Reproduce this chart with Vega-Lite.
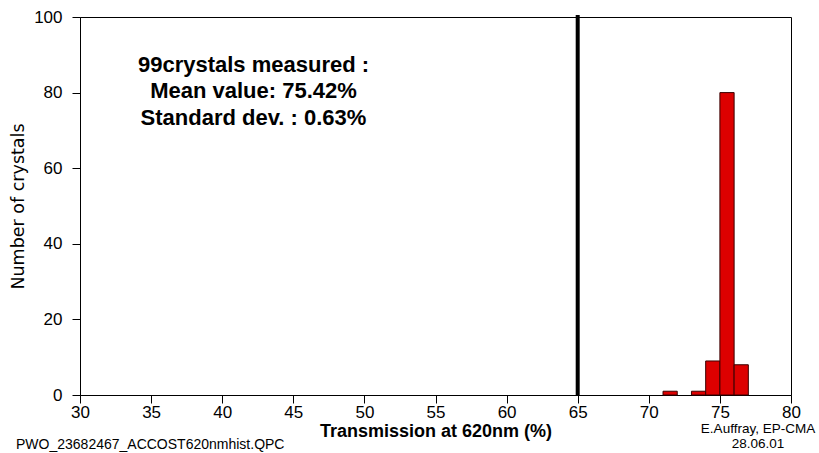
{
  "$schema": "https://vega.github.io/schema/vega-lite/v6.json",
  "width": 711,
  "height": 378,
  "autosize": {"type": "none"},
  "padding": {"left": 80, "top": 17, "right": 28, "bottom": 58},
  "background": "white",
  "config": {
    "font": "Liberation Sans",
    "view": {"stroke": "#000000", "strokeWidth": 1},
    "axis": {
      "grid": false,
      "labelFlush": false,
      "labelOverlap": false,
      "domainColor": "#000000",
      "tickColor": "#000000",
      "labelColor": "#000000",
      "titleColor": "#000000",
      "labelFont": "Liberation Sans",
      "titleFont": "Liberation Sans",
      "labelFontSize": 17,
      "tickSize": 8
    }
  },
  "datasets": {
    "bins": [
      {"start": 71, "end": 72, "count": 1},
      {"start": 73, "end": 74, "count": 1},
      {"start": 74, "end": 75, "count": 9},
      {"start": 75, "end": 76, "count": 80},
      {"start": 76, "end": 77, "count": 8}
    ],
    "notes": [
      {"x": 42.2, "y": 85.5, "label": "99crystals measured :"},
      {"x": 42.2, "y": 78.5, "label": "Mean value: 75.42%"},
      {"x": 42.2, "y": 71.4, "label": "Standard dev. : 0.63%"}
    ],
    "footLeft": [
      {"x": 25.5, "y": -14.2, "label": "PWO_23682467_ACCOST620nmhist.QPC"}
    ],
    "footRight": [
      {"x": 77.68, "y": -10.1, "label": "E.Auffray, EP-CMA"},
      {"x": 77.68, "y": -14.0, "label": "28.06.01"}
    ]
  },
  "layer": [
    {
      "data": {"name": "bins"},
      "mark": {"type": "bar", "orient": "vertical", "fill": "#dd0000", "stroke": "#3a0000", "strokeWidth": 1},
      "encoding": {
        "x": {
          "field": "start",
          "type": "quantitative",
          "scale": {"domain": [30, 80], "nice": false, "zero": false, "padding": 0},
          "axis": {
            "values": [30, 35, 40, 45, 50, 55, 60, 65, 70, 75, 80],
            "title": "Transmission at 620nm (%)",
            "titleFontSize": 18,
            "titleFontWeight": "bold",
            "labelPadding": 1,
            "titlePadding": 2
          }
        },
        "x2": {"field": "end"},
        "y": {
          "field": "count",
          "type": "quantitative",
          "scale": {"domain": [0, 100], "nice": false, "padding": 0},
          "axis": {
            "values": [0, 20, 40, 60, 80, 100],
            "title": "Number of crystals",
            "titleFont": "DejaVu Sans",
            "titleFontSize": 17.5,
            "titleFontWeight": "normal",
            "labelPadding": 10,
            "titlePadding": 6
          }
        },
        "y2": {"datum": 0}
      }
    },
    {
      "data": {"values": [{"x": 65, "y0": 0, "y1": 100.5}]},
      "mark": {"type": "rule", "color": "#000000", "strokeWidth": 4, "clip": false},
      "encoding": {
        "x": {"field": "x", "type": "quantitative"},
        "y": {"field": "y0", "type": "quantitative"},
        "y2": {"field": "y1"}
      }
    },
    {
      "data": {"name": "notes"},
      "mark": {"type": "text", "fontSize": 22, "fontWeight": "bold", "align": "center", "baseline": "alphabetic", "color": "#000000"},
      "encoding": {
        "x": {"field": "x", "type": "quantitative"},
        "y": {"field": "y", "type": "quantitative"},
        "text": {"field": "label"}
      }
    },
    {
      "data": {"name": "footLeft"},
      "mark": {"type": "text", "fontSize": 14, "align": "left", "baseline": "alphabetic", "color": "#000000", "clip": false},
      "encoding": {
        "x": {"field": "x", "type": "quantitative"},
        "y": {"field": "y", "type": "quantitative"},
        "text": {"field": "label"}
      }
    },
    {
      "data": {"name": "footRight"},
      "mark": {"type": "text", "fontSize": 13.5, "align": "center", "baseline": "alphabetic", "color": "#000000", "clip": false},
      "encoding": {
        "x": {"field": "x", "type": "quantitative"},
        "y": {"field": "y", "type": "quantitative"},
        "text": {"field": "label"}
      }
    }
  ]
}
